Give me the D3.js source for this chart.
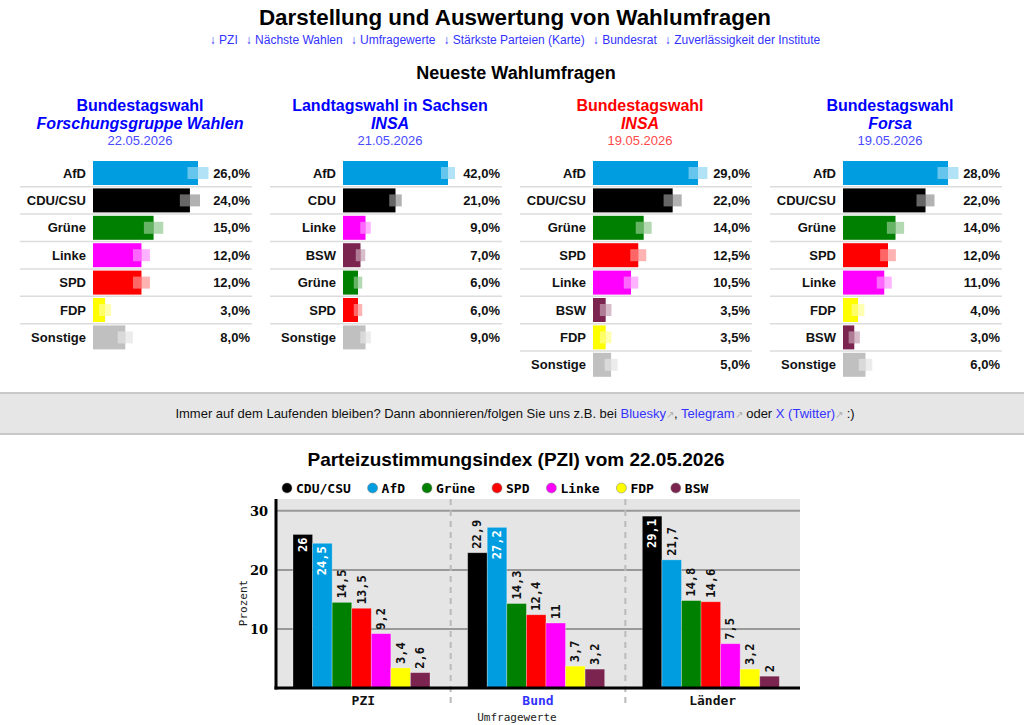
<!DOCTYPE html>
<html>
<head>
<meta charset="utf-8">
<script src="https://cdn.jsdelivr.net/npm/d3@7"></script>
<style>
  body { margin: 0; background: #fff; }
  svg { display: block; font-family: "Liberation Sans", Arial, sans-serif; }
</style>
</head>
<body>
<svg width="1024" height="725"></svg>
<script>
// ---- Daten: neueste Umfragen ----
var colors = {
  'AfD': '#009ee0', 'CDU/CSU': '#000000', 'CDU': '#000000', 'Grüne': '#008000',
  'SPD': '#ff0000', 'Linke': '#ff00ff', 'FDP': '#ffff00', 'BSW': '#7b2450', 'Sonstige': '#c0c0c0'
}

var pollTitles = ['Bundestagswahl', 'Landtagswahl in Sachsen', 'Bundestagswahl', 'Bundestagswahl']
var pollInstitutes = ['Forschungsgruppe Wahlen', 'INSA', 'INSA', 'Forsa']
var pollDates = ['22.05.2026', '21.05.2026', '19.05.2026', '19.05.2026']
var pollHighlight = [false, false, true, false]   // rot hervorgehoben

var pollParties = [
  ['AfD', 'CDU/CSU', 'Grüne', 'Linke', 'SPD', 'FDP', 'Sonstige'],
  ['AfD', 'CDU', 'Linke', 'BSW', 'Grüne', 'SPD', 'Sonstige'],
  ['AfD', 'CDU/CSU', 'Grüne', 'SPD', 'Linke', 'BSW', 'FDP', 'Sonstige'],
  ['AfD', 'CDU/CSU', 'Grüne', 'SPD', 'Linke', 'FDP', 'BSW', 'Sonstige']
]
var pollValues = [
  [26, 24, 15, 12, 12, 3, 8],
  [42, 21, 9, 7, 6, 6, 9],
  [29, 22, 14, 12.5, 10.5, 3.5, 3.5, 5],
  [28, 22, 14, 12, 11, 4, 3, 6]
]
// Fehlerbereich (+/- Prozentpunkte), aus dem Bild geschätzt
var pollMargins = [
  [2.6, 2.5, 2.4, 2.1, 2.1, 1.5, 1.9],
  [2.8, 2.5, 2.1, 1.9, 1.7, 1.7, 2.1],
  [2.6, 2.5, 2.2, 2.2, 2.0, 1.6, 1.6, 1.8],
  [2.8, 2.4, 2.3, 2.1, 2.0, 1.7, 1.5, 1.8]
]

// ---- Daten: PZI ----
var pziGroups = ['PZI', 'Bund', 'Länder']
var pziParties = ['CDU/CSU', 'AfD', 'Grüne', 'SPD', 'Linke', 'FDP', 'BSW']
var pziValues = [
  [26, 24.5, 14.5, 13.5, 9.2, 3.4, 2.6],
  [22.9, 27.2, 14.3, 12.4, 11, 3.7, 3.2],
  [29.1, 21.7, 14.8, 14.6, 7.5, 3.2, 2]
]
var yTicks = [10, 20, 30]

var navLinks = ['PZI', 'Nächste Wahlen', 'Umfragewerte', 'Stärkste Parteien (Karte)', 'Bundesrat', 'Zuverlässigkeit der Institute']

var svg = d3.select('svg')
var fmt = function(v){ return d3.format('.1f')(v).replace('.', ',') }

// ---- Kopf ----
svg.append('text')
  .attr('x', 515).attr('y', 25)
  .attr('text-anchor', 'middle')
  .attr('font-size', 22.4).attr('font-weight', 'bold')
  .text('Darstellung und Auswertung von Wahlumfragen')

var nav = svg.append('text')
  .attr('x', 515).attr('y', 44)
  .attr('text-anchor', 'middle')
  .attr('font-size', 12).attr('fill', '#3333ff')
nav.selectAll('tspan')
  .data(navLinks)
  .enter()
  .append('tspan')
  .attr('dx', function(d,i){ return i == 0 ? 0 : 8 })
  .text(function(d){ return '\u2193 ' + d })

svg.append('text')
  .attr('x', 516).attr('y', 79)
  .attr('text-anchor', 'middle')
  .attr('font-size', 18).attr('font-weight', 'bold')
  .text('Neueste Wahlumfragen')

// ---- Umfrage-Panels ----
var rowH = 27.4, barH = 24, firstRow = 173

var panels = svg.selectAll('g.poll')
  .data(pollTitles)
  .enter()
  .append('g')
  .attr('class', 'poll')
  .attr('transform', function(d,i){ return 'translate(' + (20 + i*250) + ',0)' })

panels.each(function(title, p){
  var g = d3.select(this)
  var main = pollHighlight[p] ? '#ff0000' : '#0000ff'
  var light = pollHighlight[p] ? '#ff4a4a' : '#4a4aff'

  g.append('text').attr('x', 120).attr('y', 111)
    .attr('text-anchor', 'middle').attr('font-size', 16).attr('font-weight', 'bold')
    .attr('fill', main).text(title)
  g.append('text').attr('x', 120).attr('y', 129)
    .attr('text-anchor', 'middle').attr('font-size', 16).attr('font-weight', 'bold')
    .attr('font-style', 'italic').attr('fill', main).text(pollInstitutes[p])
  g.append('text').attr('x', 120).attr('y', 145)
    .attr('text-anchor', 'middle').attr('font-size', 13)
    .attr('fill', light).text(pollDates[p])

  var vals = pollValues[p]
  var x = d3.scaleLinear().domain([0, d3.max(vals)]).range([0, 105])
  var rows = pollParties[p].map(function(party, i){
    return { party: party, value: vals[i], margin: pollMargins[p][i], i: i }
  })

  var r = g.selectAll('g.row')
    .data(rows)
    .enter()
    .append('g')
    .attr('transform', function(d){ return 'translate(0,' + (firstRow + d.i*rowH) + ')' })

  r.filter(function(d){ return d.i < rows.length - 1 })
    .append('line')
    .attr('x1', 0).attr('x2', 232)
    .attr('y1', rowH/2).attr('y2', rowH/2)
    .attr('stroke', '#dcdcdc').attr('stroke-width', 1.5)

  r.append('text')
    .attr('x', 66).attr('y', 4.5)
    .attr('text-anchor', 'end').attr('font-size', 13).attr('font-weight', 'bold')
    .attr('fill', '#111')
    .text(function(d){ return d.party })

  r.append('rect')
    .attr('x', 73).attr('y', -barH/2)
    .attr('width', function(d){ return x(d.value) })
    .attr('height', barH)
    .attr('fill', function(d){ return colors[d.party] })

  r.append('rect')
    .attr('x', function(d){ return 73 + x(d.value - d.margin) })
    .attr('y', -barH/4)
    .attr('width', function(d){ return x(2*d.margin) })
    .attr('height', barH/2)
    .attr('fill', function(d){ return colors[d.party] })
    .attr('opacity', 0.3)

  r.append('rect')
    .attr('x', function(d){ return 73 + x(d.value - d.margin) })
    .attr('y', -barH/4)
    .attr('width', function(d){ return x(d.margin) })
    .attr('height', barH/2)
    .attr('fill', '#fff')
    .attr('opacity', 0.4)

  r.append('text')
    .attr('x', 230).attr('y', 4.5)
    .attr('text-anchor', 'end').attr('font-size', 13).attr('font-weight', 'bold')
    .attr('fill', '#111')
    .text(function(d){ return fmt(d.value) + '%' })
})

// ---- Hinweisband ----
svg.append('rect').attr('x', 0).attr('y', 393).attr('width', 1024).attr('height', 41)
  .attr('fill', '#e6e6e6')
svg.append('line').attr('x1', 0).attr('x2', 1024).attr('y1', 393).attr('y2', 393)
  .attr('stroke', '#c8c8c8').attr('stroke-width', 2)
svg.append('line').attr('x1', 0).attr('x2', 1024).attr('y1', 434).attr('y2', 434)
  .attr('stroke', '#c8c8c8').attr('stroke-width', 2)

var bandParts = [
  ['Immer auf dem Laufenden bleiben? Dann abonnieren/folgen Sie uns z.B. bei ', '#111'],
  ['Bluesky', '#3333ff'], ['\u2197', '#aaa'], [', ', '#111'],
  ['Telegram', '#3333ff'], ['\u2197', '#aaa'], [' oder ', '#111'],
  ['X (Twitter)', '#3333ff'], ['\u2197', '#aaa'], [' :)', '#111']
]
svg.append('text')
  .attr('x', 515).attr('y', 418)
  .attr('text-anchor', 'middle').attr('font-size', 13)
  .selectAll('tspan')
  .data(bandParts)
  .enter()
  .append('tspan')
  .attr('fill', function(d){ return d[1] })
  .attr('font-size', function(d){ return d[0] == '\u2197' ? 10 : 13 })
  .text(function(d){ return d[0] })

// ---- PZI-Diagramm ----
svg.append('text')
  .attr('x', 516).attr('y', 466)
  .attr('text-anchor', 'middle').attr('font-size', 19).attr('font-weight', 'bold')
  .text('Parteizustimmungsindex (PZI) vom 22.05.2026')

var mono = '"DejaVu Sans Mono", monospace'
var plotL = 276, plotR = 800, plotT = 499, plotB = 688

var x0 = d3.scaleBand().domain(pziGroups).range([plotL, plotR])
var x1 = d3.scaleBand().domain(pziParties).range([17, 154])
var y = d3.scaleLinear().domain([0, 32]).range([plotB, plotT])

svg.append('rect')
  .attr('x', plotL).attr('y', plotT).attr('width', plotR - plotL).attr('height', plotB - plotT)
  .attr('fill', '#e5e5e5')

svg.selectAll('line.grid')
  .data(yTicks)
  .enter()
  .append('line')
  .attr('x1', plotL).attr('x2', plotR)
  .attr('y1', function(d){ return y(d) }).attr('y2', function(d){ return y(d) })
  .attr('stroke', '#999').attr('stroke-width', 2)

svg.selectAll('text.ytick')
  .data(yTicks)
  .enter()
  .append('text')
  .attr('x', 268).attr('y', function(d){ return y(d) + 5 })
  .attr('text-anchor', 'end').attr('font-size', 13).attr('font-weight', 'bold')
  .attr('font-family', '"DejaVu Serif", serif')
  .text(function(d){ return d })

svg.selectAll('line.sep')
  .data(pziGroups.slice(1))
  .enter()
  .append('line')
  .attr('x1', function(d){ return x0(d) }).attr('x2', function(d){ return x0(d) })
  .attr('y1', plotT).attr('y2', 707)
  .attr('stroke', '#bbb').attr('stroke-width', 2).attr('stroke-dasharray', '6,5')

var groups = svg.selectAll('g.grp')
  .data(pziGroups)
  .enter()
  .append('g')
  .attr('transform', function(d){ return 'translate(' + x0(d) + ',0)' })

var bars = groups.selectAll('g.bar')
  .data(function(d,gi){
    return pziParties.map(function(party, i){ return { party: party, value: pziValues[gi][i] } })
  })
  .enter()
  .append('g')

bars.append('rect')
  .attr('x', function(d){ return x1(d.party) })
  .attr('y', function(d){ return y(d.value) })
  .attr('width', x1.bandwidth())
  .attr('height', function(d){ return plotB - y(d.value) })
  .attr('fill', function(d){ return colors[d.party] })
  .attr('stroke', 'rgba(255,255,255,0.35)').attr('stroke-width', 0.8)

bars.append('text')
  .attr('transform', function(d){
    var cx = x1(d.party) + x1.bandwidth()/2
    var inside = d.value > 23.5
    var ty = inside ? y(d.value) + 3 : y(d.value) - 4
    return 'translate(' + cx + ',' + ty + ') rotate(-90)'
  })
  .attr('text-anchor', function(d){ return d.value > 23.5 ? 'end' : 'start' })
  .attr('dominant-baseline', 'central')
  .attr('font-family', mono).attr('font-size', 12).attr('font-weight', 'bold')
  .attr('fill', function(d){ return d.value > 23.5 ? '#fff' : '#111' })
  .text(function(d){ return String(d.value).replace('.', ',') })

// Achsen
svg.append('line').attr('x1', plotL).attr('x2', plotL).attr('y1', plotT).attr('y2', plotB + 1.5)
  .attr('stroke', '#000').attr('stroke-width', 3)
svg.append('line').attr('x1', plotL - 1.5).attr('x2', plotR).attr('y1', plotB).attr('y2', plotB)
  .attr('stroke', '#000').attr('stroke-width', 3)

svg.selectAll('text.xlab')
  .data(pziGroups)
  .enter()
  .append('text')
  .attr('x', function(d){ return x0(d) + x0.bandwidth()/2 })
  .attr('y', 705)
  .attr('text-anchor', 'middle')
  .attr('font-family', mono).attr('font-size', 13).attr('font-weight', 'bold')
  .attr('fill', function(d){ return d == 'Bund' ? '#3333ff' : '#111' })
  .text(function(d){ return d })

svg.append('text')
  .attr('x', 517).attr('y', 721)
  .attr('text-anchor', 'middle')
  .attr('font-family', mono).attr('font-size', 11).attr('fill', '#222')
  .text('Umfragewerte')

svg.append('text')
  .attr('transform', 'translate(247,603) rotate(-90)')
  .attr('text-anchor', 'middle')
  .attr('font-family', mono).attr('font-size', 11).attr('fill', '#222')
  .text('Prozent')

// Legende
var legX = 282
var leg = svg.selectAll('g.leg')
  .data(pziParties)
  .enter()
  .append('g')
  .attr('transform', function(d){
    var tx = legX
    legX += 31 + d.length * 7.8
    return 'translate(' + tx + ',488)'
  })
leg.append('circle').attr('cx', 5).attr('cy', 0).attr('r', 5)
  .attr('fill', function(d){ return colors[d] })
  .attr('stroke', '#777').attr('stroke-width', 0.5)
leg.append('text')
  .attr('x', 14).attr('y', 4.5)
  .attr('font-family', mono).attr('font-size', 13).attr('font-weight', 'bold')
  .text(function(d){ return d })
</script>
</body>
</html>
